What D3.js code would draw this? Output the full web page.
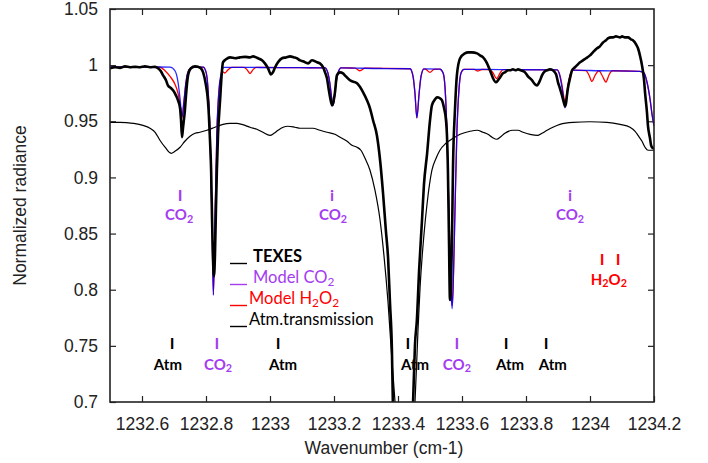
<!DOCTYPE html>
<html><head><meta charset="utf-8">
<script src="https://cdn.jsdelivr.net/npm/d3@7/dist/d3.min.js"></script>
<style>
body{margin:0;background:#fff;}
svg{display:block;}
</style></head>
<body>
<svg id="c" width="708" height="463"></svg>
<script>
// ---------- DATA ----------
const xTicks = [1232.6, 1232.8, 1233, 1233.2, 1233.4, 1233.6, 1233.8, 1234, 1234.2];
const yTicks = [0.7, 0.75, 0.8, 0.85, 0.9, 0.95, 1, 1.05];

// TEXES observed spectrum
const texesWave = [1232.500,1232.516,1232.531,1232.547,1232.5625,1232.578,1232.594,1232.609,1232.625,1232.641,1232.650,1232.659,1232.666,1232.675,1232.681,1232.691,1232.697,1232.706,1232.7125,1232.719,1232.722,1232.725,1232.728,1232.734,1232.7375,1232.744,1232.753,1232.766,1232.775,1232.784,1232.791,1232.800,1232.806,1232.809,1232.8125,1232.816,1232.819,1232.822,1232.825,1232.828,1232.831,1232.834,1232.8375,1232.844,1232.850,1232.853,1232.8625,1232.875,1232.891,1232.906,1232.922,1232.9375,1232.947,1232.9625,1232.975,1232.984,1232.994,1233.003,1233.009,1233.016,1233.025,1233.0375,1233.050,1233.0625,1233.075,1233.084,1233.094,1233.103,1233.119,1233.131,1233.147,1233.156,1233.166,1233.172,1233.178,1233.184,1233.191,1233.194,1233.197,1233.203,1233.209,1233.219,1233.228,1233.234,1233.250,1233.272,1233.291,1233.303,1233.3125,1233.322,1233.334,1233.344,1233.353,1233.362,1233.369,1233.375,1233.381,1233.384,1233.394,1233.416,1233.4375,1233.447,1233.453,1233.459,1233.466,1233.475,1233.481,1233.491,1233.500,1233.506,1233.516,1233.522,1233.531,1233.5375,1233.544,1233.550,1233.553,1233.556,1233.559,1233.5625,1233.566,1233.569,1233.572,1233.578,1233.584,1233.594,1233.609,1233.619,1233.631,1233.647,1233.656,1233.666,1233.675,1233.681,1233.691,1233.697,1233.706,1233.7125,1233.719,1233.728,1233.734,1233.744,1233.750,1233.759,1233.769,1233.775,1233.784,1233.797,1233.806,1233.819,1233.828,1233.834,1233.844,1233.850,1233.859,1233.866,1233.875,1233.884,1233.894,1233.900,1233.906,1233.9125,1233.919,1233.922,1233.925,1233.928,1233.931,1233.9375,1233.944,1233.953,1233.959,1233.969,1233.978,1233.9875,1234.000,1234.009,1234.022,1234.031,1234.041,1234.050,1234.056,1234.066,1234.072,1234.081,1234.094,1234.100,1234.109,1234.119,1234.128,1234.134,1234.144,1234.150,1234.156,1234.1625,1234.169,1234.172,1234.178,1234.181,1234.1875,1234.191,1234.197,1234.200];
const texesRad = [0.9972,0.9981,0.9976,0.9989,0.9981,0.9985,0.9981,0.9989,0.9981,0.9985,0.9972,0.9945,0.9909,0.9865,0.9820,0.9794,0.9776,0.9731,0.9687,0.9616,0.9509,0.9358,0.9438,0.9598,0.9731,0.9909,0.9972,0.9989,0.9985,0.9972,0.9936,0.9820,0.9687,0.9554,0.9331,0.9064,0.8619,0.8264,0.8121,0.8308,0.8708,0.9064,0.9375,0.9687,0.9954,1.0025,1.0052,1.0069,1.0061,1.0069,1.0074,1.0069,1.0078,1.0061,1.0043,1.0016,0.9972,0.9918,0.9936,0.9981,1.0025,1.0061,1.0069,1.0078,1.0069,1.0061,1.0043,1.0034,1.0016,1.0043,1.0025,1.0016,0.9981,0.9936,0.9883,0.9776,0.9669,0.9642,0.9660,0.9758,0.9909,0.9936,0.9927,0.9909,0.9865,0.9838,0.9758,0.9687,0.9616,0.9509,0.9375,0.9153,0.8868,0.8530,0.8281,0.7881,0.7462,0.6991,0.6395,0.6217,0.6484,0.6991,0.7507,0.7730,0.8175,0.8619,0.8931,0.9215,0.9509,0.9642,0.9696,0.9714,0.9705,0.9687,0.9616,0.9509,0.9375,0.9064,0.8512,0.7908,0.8086,0.8512,0.9109,0.9598,0.9909,1.0061,1.0105,1.0114,1.0114,1.0105,1.0087,1.0069,1.0034,0.9998,0.9927,0.9883,0.9847,0.9865,0.9891,0.9927,0.9936,0.9954,0.9954,0.9963,0.9954,0.9963,0.9954,0.9936,0.9900,0.9865,0.9829,0.9820,0.9865,0.9909,0.9945,0.9954,0.9963,0.9954,0.9918,0.9847,0.9794,0.9731,0.9660,0.9633,0.9660,0.9731,0.9794,0.9883,0.9954,0.9981,0.9998,1.0025,1.0043,1.0061,1.0087,1.0114,1.0150,1.0167,1.0203,1.0221,1.0238,1.0247,1.0247,1.0256,1.0247,1.0256,1.0247,1.0247,1.0230,1.0221,1.0185,1.0150,1.0087,0.9998,0.9865,0.9758,0.9580,0.9464,0.9349,0.9286,0.9260,0.9260];

// Model CO2
const co2Wave = [1232.500,1232.594,1232.6875,1232.703,1232.7125,1232.719,1232.725,1232.731,1232.7375,1232.747,1232.759,1232.791,1232.800,1232.806,1232.8125,1232.819,1232.823,1232.828,1232.834,1232.841,1232.847,1232.856,1232.969,1233.094,1233.172,1233.181,1233.1875,1233.194,1233.197,1233.200,1233.206,1233.2125,1233.222,1233.344,1233.4375,1233.447,1233.453,1233.459,1233.466,1233.472,1233.481,1233.531,1233.541,1233.547,1233.553,1233.559,1233.566,1233.569,1233.572,1233.578,1233.584,1233.591,1233.597,1233.606,1233.719,1233.897,1233.906,1233.9125,1233.919,1233.922,1233.925,1233.931,1233.9375,1233.947,1234.031,1234.156,1234.169,1234.178,1234.1875,1234.194,1234.200];
const co2Rad = [0.9985,0.9984,0.9983,0.995,0.985,0.970,0.954,0.968,0.985,0.996,0.9983,0.9982,0.994,0.980,0.940,0.860,0.795,0.860,0.940,0.980,0.992,0.9981,0.9979,0.9977,0.9976,0.993,0.983,0.968,0.964,0.968,0.983,0.993,0.9975,0.9970,0.9968,0.990,0.975,0.953,0.975,0.990,0.9967,0.9965,0.993,0.980,0.940,0.870,0.800,0.783,0.800,0.870,0.940,0.980,0.993,0.9963,0.9960,0.9957,0.990,0.980,0.967,0.962,0.967,0.980,0.990,0.9955,0.9950,0.9945,0.993,0.985,0.970,0.956,0.946];

// Model H2O2
const h2o2Wave = [1232.500,1232.594,1232.656,1232.672,1232.6875,1232.703,1232.7125,1232.719,1232.725,1232.731,1232.7375,1232.747,1232.759,1232.791,1232.800,1232.806,1232.8125,1232.819,1232.823,1232.828,1232.834,1232.841,1232.847,1232.853,1232.859,1232.869,1232.881,1232.919,1232.928,1232.9375,1232.947,1232.956,1233.094,1233.172,1233.181,1233.1875,1233.194,1233.197,1233.200,1233.206,1233.2125,1233.222,1233.266,1233.281,1233.297,1233.4375,1233.447,1233.453,1233.459,1233.466,1233.472,1233.481,1233.4875,1233.500,1233.5125,1233.531,1233.541,1233.547,1233.553,1233.559,1233.566,1233.569,1233.572,1233.578,1233.584,1233.591,1233.597,1233.606,1233.6375,1233.650,1233.6625,1233.6875,1233.697,1233.708,1233.719,1233.728,1233.897,1233.906,1233.9125,1233.919,1233.922,1233.925,1233.931,1233.9375,1233.947,1233.9875,1233.997,1234.006,1234.016,1234.028,1234.0375,1234.050,1234.059,1234.069,1234.156,1234.169,1234.178,1234.1875,1234.194,1234.200];
const h2o2Rad = [0.9985,0.9984,0.9983,0.995,0.990,0.983,0.975,0.965,0.953,0.967,0.985,0.996,0.9983,0.9982,0.994,0.980,0.940,0.860,0.796,0.860,0.940,0.978,0.990,0.994,0.993,0.996,0.998,0.998,0.996,0.9925,0.996,0.998,0.9977,0.9976,0.993,0.983,0.968,0.965,0.968,0.983,0.993,0.9975,0.9974,0.995,0.9973,0.9968,0.990,0.975,0.953,0.975,0.990,0.9967,0.9962,0.9935,0.9962,0.9965,0.993,0.980,0.940,0.870,0.800,0.786,0.800,0.870,0.940,0.980,0.993,0.9963,0.9962,0.9948,0.9961,0.996,0.993,0.988,0.993,0.996,0.9957,0.991,0.982,0.970,0.965,0.970,0.982,0.991,0.9955,0.9952,0.991,0.9855,0.991,0.995,0.991,0.985,0.991,0.995,0.9945,0.993,0.985,0.970,0.956,0.946];

// Atmospheric transmission
const atmWave = [1232.500,1232.531,1232.572,1232.603,1232.625,1232.641,1232.656,1232.672,1232.691,1232.703,1232.719,1232.734,1232.750,1232.766,1232.781,1232.803,1232.828,1232.853,1232.875,1232.897,1232.922,1232.9375,1232.959,1232.978,1233.000,1233.0125,1233.025,1233.041,1233.056,1233.078,1233.094,1233.134,1233.156,1233.178,1233.203,1233.219,1233.241,1233.256,1233.272,1233.284,1233.297,1233.3125,1233.328,1233.344,1233.356,1233.369,1233.381,1233.391,1233.406,1233.422,1233.4375,1233.453,1233.4625,1233.469,1233.481,1233.491,1233.506,1233.519,1233.531,1233.550,1233.572,1233.594,1233.625,1233.647,1233.666,1233.681,1233.694,1233.709,1233.719,1233.734,1233.759,1233.775,1233.791,1233.8125,1233.8375,1233.850,1233.866,1233.884,1233.906,1233.947,1234.000,1234.053,1234.094,1234.125,1234.141,1234.150,1234.1625,1234.172,1234.181,1234.200];
const atmRad = [0.9491,0.9491,0.9482,0.9464,0.9438,0.9402,0.9331,0.9269,0.9215,0.9233,0.9269,0.9322,0.9367,0.9393,0.9402,0.9420,0.9447,0.9473,0.9482,0.9482,0.9464,0.9447,0.9429,0.9402,0.9375,0.9393,0.9420,0.9447,0.9456,0.9447,0.9438,0.9438,0.9420,0.9402,0.9384,0.9358,0.9322,0.9286,0.9269,0.9242,0.9171,0.9064,0.8886,0.8619,0.8308,0.7881,0.7374,0.6991,0.6395,0.6306,0.6484,0.6991,0.7641,0.8023,0.8486,0.8770,0.9064,0.9171,0.9242,0.9304,0.9349,0.9384,0.9411,0.9420,0.9402,0.9384,0.9358,0.9340,0.9358,0.9393,0.9420,0.9420,0.9402,0.9384,0.9375,0.9393,0.9420,0.9447,0.9473,0.9491,0.9496,0.9491,0.9473,0.9447,0.9411,0.9375,0.9322,0.9269,0.9242,0.9242];

// Line identification markers
const bottomMarkWave = [1232.694,1232.834,1233.025,1233.431,1233.584,1233.7375,1233.8625];
const bottomLabelWave = [1232.681,1232.8375,1233.041,1233.453,1233.584,1233.750,1233.884];
const bottomLabelSpecies = ["Atm","CO2","Atm","Atm","CO2","Atm","Atm"];
const topMarkWave = [1232.719,1233.194,1233.9375];
const topMarkGlyph = ["I","i","i"];
const topLabelWave = [1232.716,1233.197,1233.9375];
const h2o2MarkWave = [1234.0375,1234.0875];
const h2o2LabelWave = 1234.059;
const markLevels = {bottomMark:0.7472, bottomLabel:0.7285, topMark:0.8788, topLabel:0.8619, h2o2Mark:0.8219, h2o2Label:0.8041};

// Legend entries
const legendNames = ["TEXES","Model CO2","Model H2O2","Atm.transmission"];

// ---------- DRAW ----------
const svg = d3.select("#c");
const L=110,R=654,T=9,B=402;
const x = d3.scaleLinear().domain([1232.5,1234.2]).range([L,R]);
const y = d3.scaleLinear().domain([0.7,1.05]).range([B,T]);
const PURPLE="#a43cf0", RED="#ff0000", BLUE="#0000ff";

svg.append("defs").append("clipPath").attr("id","clip")
  .append("rect").attr("x",L).attr("y",T).attr("width",R-L).attr("height",B-T);

const tickFont = "'Liberation Sans', Arial, sans-serif";
function styleAxis(g){
  g.select(".domain").remove();
  g.selectAll(".tick line").attr("stroke","#222").attr("stroke-width",1.2);
  g.selectAll(".tick text").attr("font-family",tickFont).attr("font-size",17.5).attr("fill","#222");
}
svg.append("g").attr("transform",`translate(0,${B})`)
  .call(d3.axisBottom(x).tickValues(xTicks).tickSize(-6).tickPadding(16).tickFormat(d3.format("")))
  .call(styleAxis);
svg.append("g").attr("transform",`translate(0,${T})`)
  .call(d3.axisTop(x).tickValues(xTicks.slice(0,-1)).tickSize(-6).tickFormat(""))
  .call(styleAxis);
svg.append("g").attr("transform",`translate(${L},0)`)
  .call(d3.axisLeft(y).tickValues(yTicks).tickSize(-6).tickPadding(12).tickFormat(d3.format("")))
  .call(styleAxis);
svg.append("g").attr("transform",`translate(${R},0)`)
  .call(d3.axisRight(y).tickValues(yTicks.slice(1,-1)).tickSize(-6).tickFormat(""))
  .call(styleAxis);

const toPts = (w,v)=>w.map((d,i)=>[d,v[i]]);
const line = d3.line().x(d=>x(d[0])).y(d=>y(d[1])).curve(d3.curveMonotoneX);
const plot = svg.append("g").attr("clip-path","url(#clip)");
plot.append("path").attr("d",line(toPts(atmWave,atmRad))).attr("fill","none").attr("stroke","#000").attr("stroke-width",1.2);
plot.append("path").attr("d",line(toPts(h2o2Wave,h2o2Rad))).attr("fill","none").attr("stroke",RED).attr("stroke-width",1.3);
plot.append("path").attr("d",line(toPts(co2Wave,co2Rad))).attr("fill","none").attr("stroke",BLUE).attr("stroke-width",1.3).attr("stroke-opacity",0.85);
plot.append("path").attr("d",line(toPts(texesWave,texesRad))).attr("fill","none").attr("stroke","#000").attr("stroke-width",2.6).attr("stroke-linejoin","round");

// frame
svg.append("rect").attr("x",L).attr("y",T).attr("width",R-L).attr("height",B-T)
  .attr("fill","none").attr("stroke","#222").attr("stroke-width",1.6);

// axis titles
svg.append("text").attr("x",(L+R)/2+2).attr("y",454).attr("text-anchor","middle")
  .attr("font-family",tickFont).attr("font-size",17.5).attr("fill","#222").text("Wavenumber (cm-1)");
svg.append("text").attr("transform",`translate(26,${(T+B)/2}) rotate(-90)`).attr("text-anchor","middle")
  .attr("font-family",tickFont).attr("font-size",17.5).attr("fill","#222").text("Normalized radiance");

// chemical formula writer: digits become subscripts
function chem(sel, formula, bold){
  const parts = formula.match(/[A-Za-z. ]+|\d+/g);
  let prevSub = false;
  parts.forEach(p=>{
    if(/^\d+$/.test(p)){
      sel.append("tspan").attr("font-size","0.72em").attr("dy","0.22em").text(p);
      prevSub = true;
    } else {
      const t = sel.append("tspan").attr("dy", prevSub ? "-0.16em" : null).text(p);
      if(bold!==undefined) t.attr("font-weight", bold ? "bold" : "normal");
      prevSub = false;
    }
  });
}

// annotations
const labFont = "Lato, 'Open Sans', sans-serif";
const ann = svg.append("g").attr("font-family",labFont).attr("font-weight","bold").attr("text-anchor","middle");
const colorOf = s => s==="CO2" ? PURPLE : "#000";
bottomMarkWave.forEach((w,i)=>{
  ann.append("text").attr("x",x(w)).attr("y",y(markLevels.bottomMark)).attr("font-size",16)
    .attr("fill",colorOf(bottomLabelSpecies[i])).text("I");
  const t = ann.append("text").attr("x",x(bottomLabelWave[i])).attr("y",y(markLevels.bottomLabel)).attr("font-size",15)
    .attr("fill",colorOf(bottomLabelSpecies[i]));
  chem(t,bottomLabelSpecies[i]);
});
topMarkWave.forEach((w,i)=>{
  ann.append("text").attr("x",x(w)).attr("y",y(markLevels.topMark)).attr("font-size",16)
    .attr("fill",PURPLE).text(topMarkGlyph[i]);
  const t = ann.append("text").attr("x",x(topLabelWave[i])).attr("y",y(markLevels.topLabel)).attr("font-size",15).attr("fill",PURPLE);
  chem(t,"CO2");
});
h2o2MarkWave.forEach(w=>{
  ann.append("text").attr("x",x(w)).attr("y",y(markLevels.h2o2Mark)).attr("font-size",16).attr("fill",RED).text("I");
});
{
  const t = ann.append("text").attr("x",x(h2o2LabelWave)).attr("y",y(markLevels.h2o2Label)).attr("font-size",15).attr("fill",RED);
  chem(t,"H2O2");
}

// legend
const leg = svg.append("g").attr("font-family",labFont).attr("font-size",16.5);
const legColors = ["#000",PURPLE,RED,"#000"];
const legBold = [true,false,false,false];
const legTextX = [253,253,249,249];
legendNames.forEach((name,i)=>{
  const by = 262 + i*21;
  leg.append("line").attr("x1",230).attr("x2",247).attr("y1",by+1.5).attr("y2",by+1.5)
    .attr("stroke",legColors[i]).attr("stroke-width",1.4);
  const t = leg.append("text").attr("x",legTextX[i]).attr("y",by).attr("fill",legColors[i]);
  chem(t,name,legBold[i]);
});
</script>
</body></html>
